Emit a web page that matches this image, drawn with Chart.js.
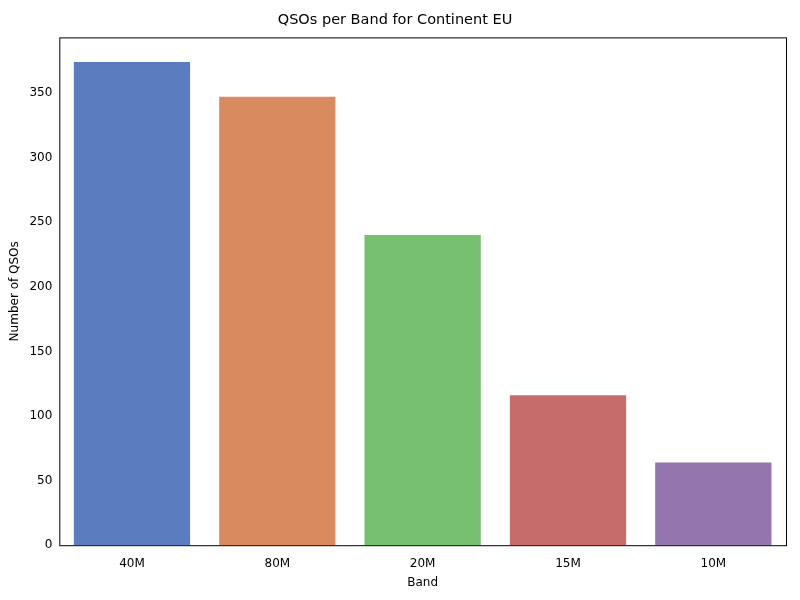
<!DOCTYPE html>
<html>
<head>
<meta charset="utf-8">
<script src="https://cdn.jsdelivr.net/npm/chart.js@4"></script>
<style>
  html, body { margin: 0; padding: 0; background: #fff; }
  #wrap { width: 800px; height: 600px; position: relative; }
</style>
</head>
<body>
<div id="wrap"><canvas id="chart"></canvas></div>
<script>
const bands = ["40M", "80M", "20M", "15M", "10M"];
const qsoCounts = [374, 347, 240, 116, 64];
const barColors = ["#5a7dc0", "#d98b5f", "#76c06f", "#c66d6c", "#9475ad"];
const yTicks = [0, 50, 100, 150, 200, 250, 300, 350];

const font = { family: "DejaVu Sans", size: 12 };

// draws the black frame around the plot area, like matplotlib spines
const frame = {
  id: "frame",
  afterDatasetsDraw(chart) {
    const { ctx, chartArea: a } = chart;
    ctx.save();
    ctx.strokeStyle = "#000";
    ctx.lineWidth = 1;
    ctx.strokeRect(a.left + 0.5, a.top + 0.5, a.right - a.left, a.bottom - a.top);
    ctx.restore();
  },
};

new Chart(document.getElementById("chart"), {
  type: "bar",
  data: {
    labels: bands,
    datasets: [{
      data: qsoCounts,
      backgroundColor: barColors,
      categoryPercentage: 0.8,
      barPercentage: 1.0,
    }],
  },
  options: {
    responsive: true,
    maintainAspectRatio: false,
    animation: false,
    layout: { padding: { top: 4, right: 14, left: 4, bottom: 6 } },
    plugins: {
      legend: { display: false },
      tooltip: { enabled: false },
      title: {
        display: true,
        text: "QSOs per Band for Continent EU",
        color: "#000",
        font: { family: "DejaVu Sans", size: 14.5, weight: "normal" },
        padding: { top: 8, bottom: 8 },
      },
    },
    scales: {
      x: {
        grid: { display: false, drawTicks: true },
        border: { display: false },
        ticks: { color: "#000", font },
        title: { display: true, text: "Band", color: "#000", font, padding: { top: 2 } },
      },
      y: {
        min: 0,
        max: 393,
        afterBuildTicks(axis) { axis.ticks = yTicks.map((v) => ({ value: v })); },
        grid: { display: false, drawTicks: true, tickLength: 4 },
        border: { display: false },
        ticks: { color: "#000", font },
        title: { display: true, text: "Number of QSOs", color: "#000", font },
      },
    },
  },
  plugins: [frame],
});
</script>
</body>
</html>
